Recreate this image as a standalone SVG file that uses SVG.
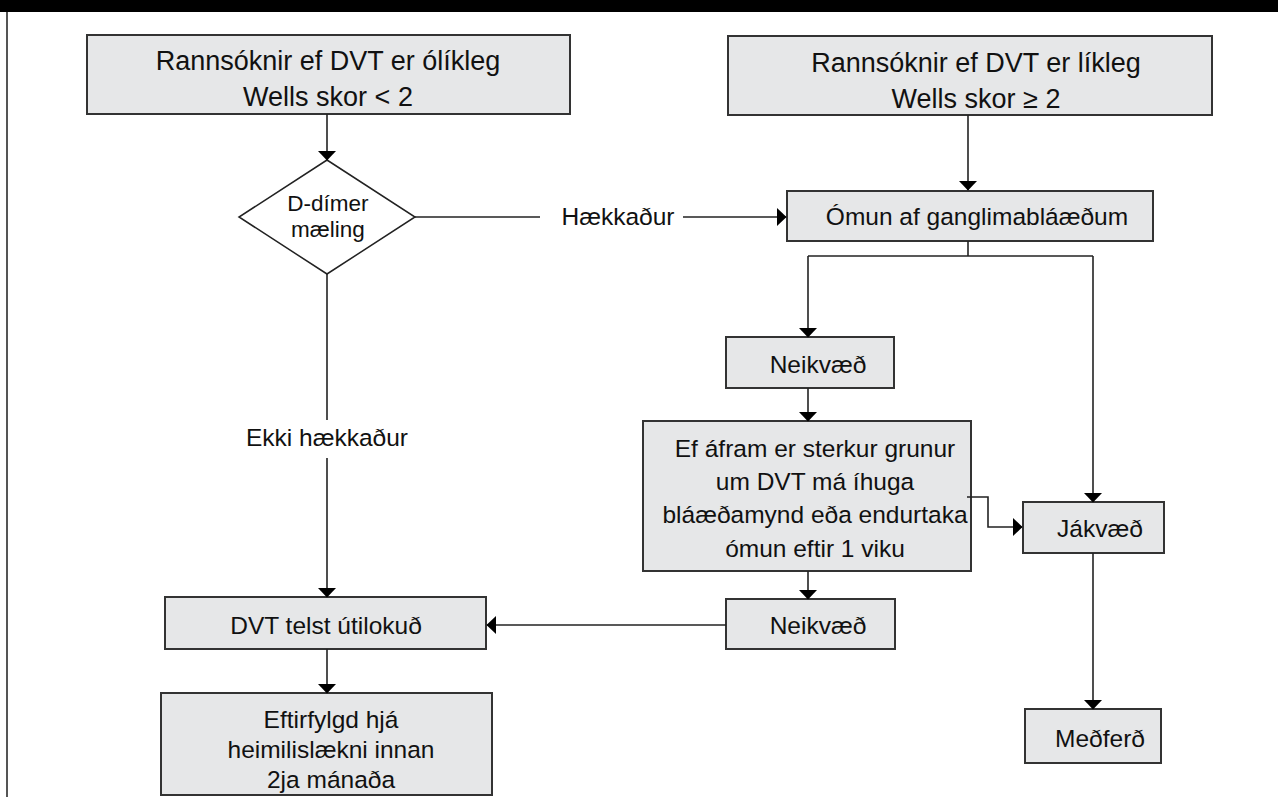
<svg xmlns="http://www.w3.org/2000/svg" width="1278" height="797" viewBox="0 0 1278 797">
<style>
.box{fill:#e6e7e8;stroke:#333;stroke-width:2}
.dia{fill:#fff;stroke:#222;stroke-width:1.5}
.t{font-family:"Liberation Sans",Arial,sans-serif;font-size:24.5px;fill:#111;text-anchor:middle}
.tt{font-size:27px}
.td{font-size:22.5px}
.c{fill:none;stroke:#222;stroke-width:1.6}
.ca{fill:none;stroke:#222;stroke-width:1.6;marker-end:url(#ah)}
</style>
<defs>
<marker id="ah" markerUnits="userSpaceOnUse" markerWidth="10" markerHeight="18" viewBox="0 0 9 17" refX="8.5" refY="8.5" orient="auto">
<path d="M0,0 L9,8.5 L0,17 Z" fill="#000"/>
</marker>
</defs>
<rect x="0" y="0" width="1278" height="12" fill="#000"/>
<line x1="7" y1="12" x2="7" y2="797" stroke="#555" stroke-width="2"/>

<g id="n-top-left">
<rect class="box" x="87" y="35" width="483" height="79"/>
<text class="t tt" x="328" y="70">Rannsóknir ef DVT er ólíkleg</text>
<text class="t tt" x="328" y="106">Wells skor &lt; 2</text>
</g>
<g id="n-top-right">
<rect class="box" x="728" y="36" width="484" height="79"/>
<text class="t tt" x="976" y="72">Rannsóknir ef DVT er líkleg</text>
<text class="t tt" x="976" y="108">Wells skor ≥ 2</text>
</g>
<g id="n-ddimer">
<polygon class="dia" points="327,160 415,217 327,274 239,217"/>
<text class="t td" x="328" y="211">D-dímer</text>
<text class="t td" x="328" y="237">mæling</text>
</g>
<g id="n-omun">
<rect class="box" x="787" y="191" width="366" height="50"/>
<text class="t" x="977" y="225">Ómun af ganglimabláæðum</text>
</g>
<g id="n-neikvaed1">
<rect class="box" x="726" y="337" width="168" height="51"/>
<text class="t" x="818" y="373">Neikvæð</text>
</g>
<g id="n-efafram">
<rect class="box" x="643" y="421" width="328" height="150"/>
<text class="t" x="815" y="457">Ef áfram er sterkur grunur</text>
<text class="t" x="815" y="490">um DVT má íhuga</text>
<text class="t" x="815" y="523">bláæðamynd eða endurtaka</text>
<text class="t" x="815" y="557">ómun eftir 1 viku</text>
</g>
<g id="n-neikvaed2">
<rect class="box" x="726" y="599" width="169" height="50"/>
<text class="t" x="818" y="634">Neikvæð</text>
</g>
<g id="n-jakvaed">
<rect class="box" x="1023" y="502" width="141" height="51"/>
<text class="t" x="1100" y="537">Jákvæð</text>
</g>
<g id="n-medferd">
<rect class="box" x="1025" y="709" width="136" height="54"/>
<text class="t" x="1100" y="747">Meðferð</text>
</g>
<g id="n-dvt">
<rect class="box" x="165" y="597" width="321" height="52"/>
<text class="t" x="326" y="634">DVT telst útilokuð</text>
</g>
<g id="n-eftirfylgd">
<rect class="box" x="161" y="693" width="331" height="102"/>
<text class="t" x="331" y="728">Eftirfylgd hjá</text>
<text class="t" x="331" y="758">heimilislækni innan</text>
<text class="t" x="331" y="788">2ja mánaða</text>
</g>

<g id="connectors">
<line class="ca" x1="327" y1="114" x2="327" y2="160"/>
<line class="ca" x1="968" y1="115" x2="968" y2="190"/>
<line class="c" x1="415" y1="217" x2="540" y2="217"/>
<line class="ca" x1="683" y1="217" x2="786" y2="217"/>
<text class="t" x="618" y="225">Hækkaður</text>
<line class="c" x1="327" y1="274" x2="327" y2="420"/>
<text class="t" x="327" y="446">Ekki hækkaður</text>
<line class="ca" x1="327" y1="458" x2="327" y2="597"/>
<polyline class="c" points="968,241 968,256"/>
<polyline class="ca" points="808,256 808,337"/>
<line class="c" x1="808" y1="256" x2="1093" y2="256"/>
<polyline class="ca" points="1093,256 1093,502"/>
<line class="ca" x1="808" y1="388" x2="808" y2="421"/>
<line class="ca" x1="808" y1="571" x2="808" y2="599"/>
<polyline class="ca" points="967,497 988,497 988,527 1022,527"/>
<line class="ca" x1="726" y1="625" x2="487" y2="625"/>
<line class="ca" x1="1093" y1="553" x2="1093" y2="709"/>
<line class="ca" x1="327" y1="649" x2="327" y2="693"/>
</g>
</svg>
